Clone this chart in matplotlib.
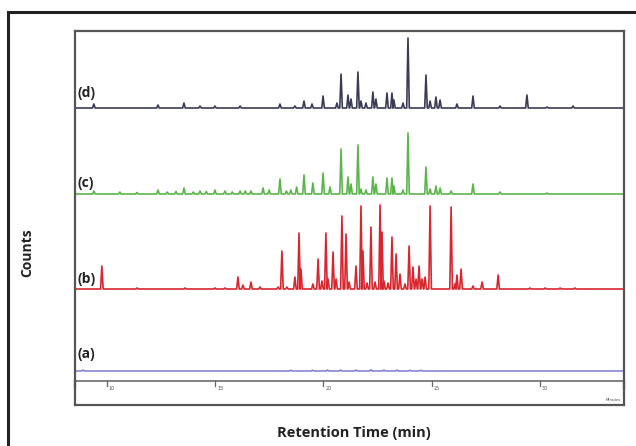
import matplotlib

matplotlib.use("Agg")

import numpy as np
import matplotlib.pyplot as plt
from matplotlib.patches import Rectangle

# Retention times (min) and peak heights (arbitrary counts)
d_times = [9.41, 12.37, 13.57, 14.31, 15.00, 16.16, 18.00, 18.69, 19.11, 19.48,
           19.99, 20.63, 20.82, 21.14, 21.28, 21.60, 21.74, 21.97, 22.29, 22.43,
           22.94, 23.17, 23.26, 23.68, 23.91, 24.74, 24.93, 25.20, 25.39, 26.17,
           26.91, 28.16, 29.40, 30.33, 31.53]
d_heights = [4, 3, 5, 2, 2, 2, 4, 2, 7, 4,
             12, 5, 34, 13, 9, 36, 7, 5, 16, 9,
             15, 15, 8, 5, 70, 33, 7, 11, 8, 4,
             12, 2, 13, 1, 2]

c_times = [9.41, 10.61, 11.40, 12.37, 12.80, 13.20, 13.57, 14.00, 14.31, 14.60,
           15.00, 15.46, 15.80, 16.16, 16.40, 16.66, 17.22, 17.50, 18.00, 18.30,
           18.50, 18.77, 19.11, 19.52, 19.99, 20.31, 20.82, 21.14, 21.28, 21.60,
           21.74, 21.97, 22.29, 22.43, 22.94, 23.17, 23.26, 23.68, 23.91, 24.74,
           24.93, 25.20, 25.39, 25.90, 26.91, 28.16, 30.33]
c_heights = [3, 2, 1.5, 4, 2, 2.5, 6, 2, 3, 2.5,
             4, 3, 2, 3, 3, 3, 6, 4, 15, 3,
             4, 7, 19, 11, 21, 7, 45, 17, 10, 49,
             5, 4, 17, 10, 16, 16, 8, 4, 61, 27,
             5, 8, 6, 3, 10, 2, 1]

b_times = [9.78, 11.40, 13.62, 15.00, 15.46, 16.06, 16.29, 16.66, 17.08, 17.91,
           18.09, 18.32, 18.69, 18.88, 18.97, 19.52, 19.76, 19.94, 20.12, 20.22,
           20.45, 20.59, 20.86, 21.05, 21.19, 21.51, 21.74, 21.83, 22.02, 22.20,
           22.39, 22.62, 22.71, 22.80, 22.99, 23.17, 23.36, 23.54, 23.77, 23.96,
           24.14, 24.28, 24.42, 24.56, 24.70, 24.93, 25.90, 26.08, 26.17, 26.36,
           26.91, 27.33, 28.07, 29.54, 30.24, 30.93, 31.62]
b_heights = [23, 1, 1, 1, 1, 12, 4, 7, 2, 2,
             38, 2, 12, 56, 20, 5, 30, 8, 56, 10,
             37, 10, 73, 55, 7, 23, 83, 38, 6, 62,
             7, 84, 57, 8, 6, 52, 35, 15, 5, 43,
             22, 10, 23, 10, 12, 83, 82, 5, 14, 20,
             3, 7, 14, 1, 1, 1, 1]

a_times = [8.90, 18.50, 19.50, 20.20, 20.80, 21.50, 22.20, 22.80, 23.40, 24.00, 24.50]
a_heights = [1, 0.8, 0.8, 1, 1, 1, 1.2, 1, 1, 0.8, 0.8]

tick_times = [10, 15, 20, 25, 30]
tick_labels = ["10", "15", "20", "25", "30"]

W, H = 636, 446
x_lo, x_hi = 8.54, 33.88


def trace(times, heights, base, width=0.06):
    t = np.asarray(times)
    h = np.asarray(heights, dtype=float)
    xs = np.column_stack([t - width, t, t + width]).ravel()
    ys = np.column_stack([np.zeros_like(h), h, np.zeros_like(h)]).ravel()
    xs = np.concatenate([[x_lo], xs, [x_hi]])
    ys = np.concatenate([[0], ys, [0]]) + base
    return xs, ys


fig = plt.figure(figsize=(W / 100, H / 100), dpi=100)
ax = fig.add_axes([75 / W, 1 - 405 / H, (624 - 75) / W, (405 - 31) / H])
ax.set_xlim(x_lo, x_hi)
ax.set_ylim(0, 374)

series = [
    (d_times, d_heights, 297, "#3b3b58", 1.2),
    (c_times, c_heights, 211, "#5cb54c", 1.2),
    (b_times, b_heights, 116, "#d8262e", 1.2),
    (a_times, a_heights, 34, "#7070cc", 1.0),
]
for times, heights, base, col, lw in series:
    xs, ys = trace(times, heights, base)
    ax.plot(xs, ys, color=col, lw=lw)

# inner time axis line with its tiny ticks
ax.axhline(24.3, color="#777777", lw=1.3)
for t, lab in zip(tick_times, tick_labels):
    ax.plot([t, t], [24.3, 19], color="#666666", lw=0.9)
    ax.text(t + 0.1, 19.5, lab, fontsize=3.5, color="#555555", ha="left", va="top")
for t in (x_lo, x_hi):
    ax.plot([t, t], [24.3, 17], color="#333333", lw=1.6, clip_on=False)
ax.text(x_hi - 0.15, 3, "Minutes", fontsize=2.8, color="#444444", ha="right", va="bottom")

for sp in ax.spines.values():
    sp.set_color("#555555")
    sp.set_linewidth(1.6)
ax.set_xticks([])
ax.set_yticks([])

font = ["Open Sans", "DejaVu Sans"]
for lab, ypx in [("(d)", 93), ("(c)", 183), ("(b)", 279), ("(a)", 354)]:
    fig.text(77 / W, 1 - ypx / H, lab, fontsize=10, family=font, weight="bold",
             color="#222222", ha="left", va="center")

fig.text(27 / W, 1 - 253 / H, "Counts", fontsize=10, family=font, weight="bold",
         rotation=90, ha="center", va="center", color="#222222")
fig.text(354 / W, 1 - 433 / H, "Retention Time (min)", fontsize=10.5, family=font,
         weight="bold", ha="center", va="center", color="#222222")

# outer frame, running off the right and bottom edges
fig.add_artist(Rectangle((7.5 / W, -0.05), 1.1, 1 - 11.7 / H + 0.05,
                         transform=fig.transFigure, fill=False, ec="#222222", lw=2.2))

fig.savefig("out.png", dpi=100)
